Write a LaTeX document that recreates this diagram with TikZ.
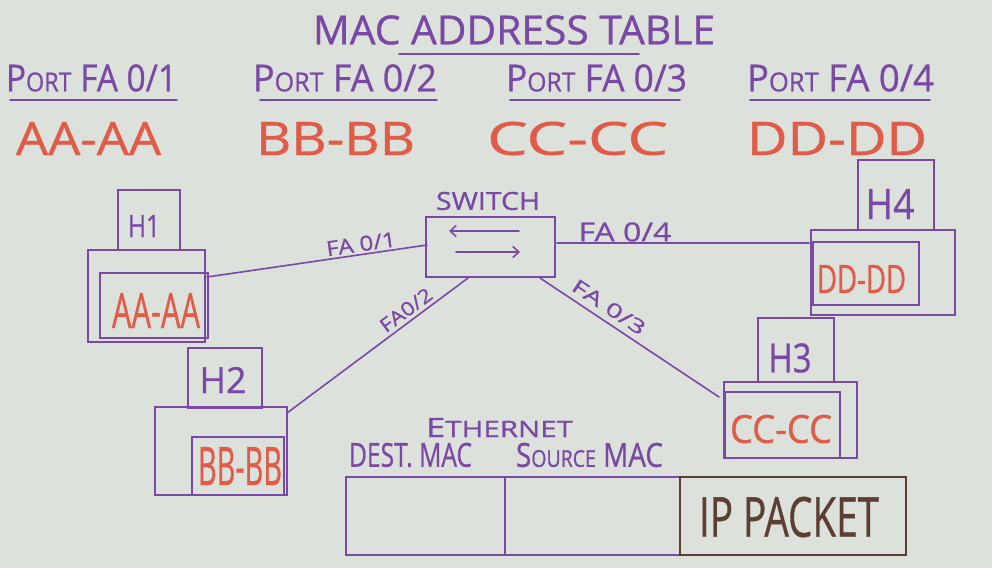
\documentclass[tikz,border=0pt]{standalone}
\usepackage{fontspec}
\setmainfont[FakeBold=0.8]{Open Sans}
\usetikzlibrary{arrows.meta,calc}
\definecolor{board}{RGB}{221,225,220}
\definecolor{ink}{RGB}{122,72,165}
\definecolor{redink}{RGB}{224,92,72}
\definecolor{brownink}{RGB}{92,62,50}
\newcommand\fitw[3]{\resizebox{#1pt}{#2pt}{#3}}
\newcommand\lc[1]{{\fontsize{7}{7}\selectfont #1}}
\newcommand\lcb[1]{{\fontsize{8.5}{8.5}\selectfont #1}}
\begin{document}
\begin{tikzpicture}[x=1pt,y=-1pt,
  box/.style={draw=ink, line width=1.6pt, inner sep=0pt, outer sep=0pt},
  pbox/.style={draw=brownink, line width=1.6pt, inner sep=0pt, outer sep=0pt},
  txt/.style={inner sep=0pt, outer sep=0pt, text=ink},
  rtxt/.style={inner sep=0pt, outer sep=0pt, text=redink},
  wire/.style={draw=ink, line width=1.6pt, line cap=round},
  swarrow/.style={wire, -{Straight Barb[length=6pt,width=11pt,line width=1.6pt]}}]
\fill[board] (0,0) rectangle (992,568);
\useasboundingbox (0,0) rectangle (992,568);

% title and table
\node[txt] (title) at (514,30) {\fitw{402}{29}{MAC ADDRESS TABLE}};
\draw[wire] (399,54) -- (639,54);

\node[txt] (p1) at (91.5,78) {\fitw{171}{27}{P\lc{ORT} FA 0/1}};
\node[txt] (p2) at (345,78) {\fitw{184}{27}{P\lc{ORT} FA 0/2}};
\node[txt] (p3) at (596.5,78) {\fitw{181}{27}{P\lc{ORT} FA 0/3}};
\node[txt] (p4) at (840.5,78) {\fitw{187}{27}{P\lc{ORT} FA 0/4}};
\draw[wire] (10,100) -- (177,100);
\draw[wire] (260,100) -- (437,100);
\draw[wire] (510,100) -- (680,100);
\draw[wire] (750,100) -- (930,100);

\node[rtxt] (m1) at (88.5,138.5) {\fitw{145}{33}{AA-AA}};
\node[rtxt] (m2) at (335.5,138.5) {\fitw{159}{33}{BB-BB}};
\node[rtxt] (m3) at (577.5,138.5) {\fitw{181}{33}{CC-CC}};
\node[rtxt] (m4) at (837,138.5) {\fitw{180}{33}{DD-DD}};

% switch
\node[box, minimum width=129, minimum height=60] (sw) at (490.5,247) {};
\node[txt] (swl) at (488,201) {\fitw{104}{18}{SWITCH}};
\draw[swarrow] ($(sw.center)+(28.5,-16)$) -- ($(sw.center)+(-41.5,-16)$);
\draw[swarrow] ($(sw.center)+(-34.5,5)$) -- ($(sw.center)+(29.5,5)$);

% H1
\node[box, minimum width=62, minimum height=60] (h1tab) at (149,220) {};
\node[txt] (h1l) at (144,226) {\fitw{32}{22}{H1}};
\node[box, minimum width=117, minimum height=92] (h1) at (146.5,296) {};
\node[box, minimum width=108, minimum height=65] (h1in) at (154,305.5) {};
\node[rtxt] (h1m) at (156,310.5) {\fitw{88}{35}{AA-AA}};

% H2
\node[box, minimum width=74, minimum height=60] (h2tab) at (225,378) {};
\node[txt] (h2l) at (223,380) {\fitw{47}{26}{H2}};
\node[box, minimum width=132, minimum height=88] (h2) at (221,451) {};
\node[box, minimum width=92, minimum height=58] (h2in) at (238,466) {};
\node[rtxt] (h2m) at (240,466) {\fitw{84}{38}{BB-BB}};

% H3
\node[box, minimum width=76, minimum height=64] (h3tab) at (796,350) {};
\node[txt] (h3l) at (790,358) {\fitw{43}{29}{H3}};
\node[box, minimum width=133, minimum height=76] (h3) at (790.5,420) {};
\node[box, minimum width=115, minimum height=66] (h3in) at (782.5,425) {};
\node[rtxt] (h3m) at (781,429) {\fitw{102}{28}{CC-CC}};

% H4
\node[box, minimum width=76, minimum height=70] (h4tab) at (896,195) {};
\node[txt] (h4l) at (890,204) {\fitw{49}{30}{H4}};
\node[box, minimum width=144, minimum height=85] (h4) at (883,272.5) {};
\node[box, minimum width=106, minimum height=63] (h4in) at (866,273.5) {};
\node[rtxt] (h4m) at (861.5,279) {\fitw{89}{28}{DD-DD}};

% links
\draw[wire] ($(h1.north east)+(2,27)$) -- ($(sw.west)+(1,-2)$);
\node[txt, rotate=8.3] (l1) at (361,244) {\fitw{70}{15}{FA 0/1}};
\draw[wire] ($(h2.north east)+(0,6)$) -- ($(sw.south west)+(42,1)$);
\node[txt, rotate=36.7] (l2) at (406,310) {\fitw{60}{14}{FA0/2}};
\draw[wire] ($(sw.east)+(2,-4)$) -- ($(h4.north west)+(-2,13)$);
\node[txt] (l4) at (625,232) {\fitw{93}{19}{FA 0/4}};
\draw[wire] ($(sw.south east)+(-15,1)$) -- ($(h3.north west)+(-5,15)$);
\node[txt, rotate=-33.6] (l3) at (609,307) {\fitw{84}{14}{FA 0/3}};

% ethernet frame
\node[txt] (eth) at (499.5,427.5) {\fitw{147}{19}{E\lcb{THERNET}}};
\node[txt] (dst) at (410.5,455) {\fitw{123}{24}{DEST. MAC}};
\node[txt] (src) at (589.5,455) {\fitw{147}{24}{S\lc{OURCE} MAC}};
\node[box, minimum width=159, minimum height=78] (fdst) at (425.5,516) {};
\node[box, minimum width=175, minimum height=78] (fsrc) at (592.5,516) {};
\node[pbox, minimum width=226, minimum height=78] (fip) at (793,516) {};
\node[inner sep=0pt, text=brownink] (ipl) at (789,517) {\fitw{180}{40}{IP PACKET}};
\end{tikzpicture}
\end{document}
